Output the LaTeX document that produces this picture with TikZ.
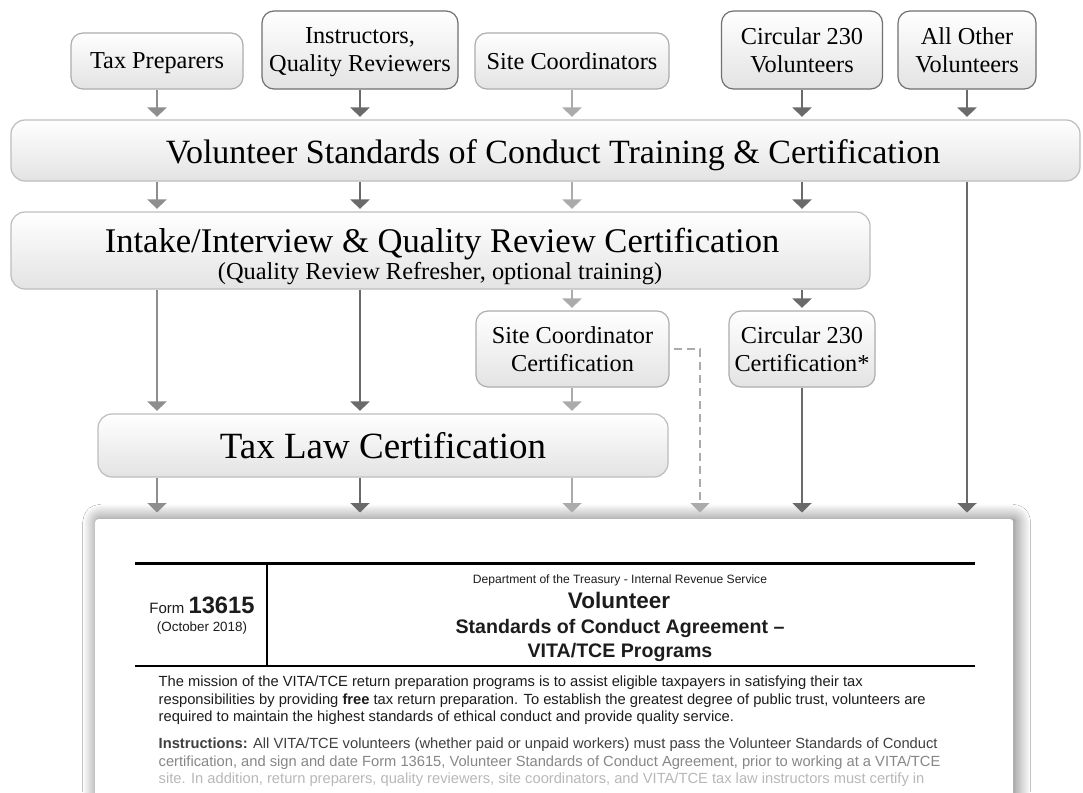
\documentclass[tikz,border=0pt]{standalone}
\usepackage{fontspec}
\setmainfont{Liberation Serif}
\newfontfamily\formfont{Liberation Sans}
\usetikzlibrary{arrows.meta,shadows.blur}

\definecolor{edgelight}{HTML}{ADADAD}
\definecolor{edgedark}{HTML}{707070}
\definecolor{edgebig}{HTML}{BDBDBD}
\definecolor{fillbot}{HTML}{E3E3E3}
\definecolor{armid}{HTML}{8E8E8E}
\definecolor{ardark}{HTML}{6A6A6A}
\definecolor{arlight}{HTML}{ABABAB}
\definecolor{ink}{HTML}{1C1C1C}

\tikzset{
  box/.style={draw=edgelight, line width=1.2pt, rounded corners=12pt,
    top color=white, bottom color=fillbot, inner sep=0pt, align=center,
    text depth=0pt, font=\fontsize{24.3}{28}\selectfont},
  darkbox/.style={box, draw=edgedark},
  bigbox/.style={box, draw=edgebig, rounded corners=14pt},
  boxtitle/.style={inner sep=0pt, anchor=base},
  flow/.style={line width=2.2pt, -{Triangle[width=19pt,length=9.5pt]}, shorten >=2.5pt},
  dashflow/.style={flow, line width=1.6pt, dash pattern=on 8pt off 5pt, arlight},
  formcard/.style={fill=white, rounded corners=3pt, inner sep=0pt,
    blur shadow={shadow xshift=2.5pt, shadow yshift=0pt, shadow blur radius=15pt,
      shadow blur steps=15, shadow opacity=60}},
  ftext/.style={inner sep=0pt, text=ink, font=\formfont},
  bodyline/.style={ftext, anchor=base west, font=\formfont\fontsize{14.7}{17}\selectfont},
}

\begin{document}
\begin{tikzpicture}[x=1pt,y=-1pt]
\useasboundingbox (0,0) rectangle (1083,792);
\fill[white] (0,0) rectangle (1083,792);

% the agreement form page at the foot of the chart
\node[formcard, minimum width=918pt, minimum height=300pt, anchor=north west] (card) at (95,519) {};

% volunteer roles
\node[box, minimum width=172pt, minimum height=56pt] (tp) at (157,61) {Tax Preparers};
\node[darkbox, minimum width=196pt, minimum height=78pt] (iq) at (360,50) {Instructors,\\Quality Reviewers};
\node[box, minimum width=194pt, minimum height=56pt] (sc) at (572,61) {Site Coordinators};
\node[darkbox, minimum width=161pt, minimum height=78pt] (cv) at (802,50) {Circular 230\\Volunteers};
\node[darkbox, minimum width=138pt, minimum height=78pt] (ov) at (967,50) {All Other\\Volunteers};

% certification stages
\node[bigbox, minimum width=1069pt, minimum height=61pt] (vsc) at (545.5,150.5) {};
\node[boxtitle, font=\fontsize{34}{38}\selectfont] (vsctext) at (553,163)
  {Volunteer Standards of Conduct Training \& Certification};
\node[bigbox, minimum width=859pt, minimum height=77pt] (intake) at (440.5,250.5) {};
\node[boxtitle, font=\fontsize{34.6}{38}\selectfont] (intaketext) at (442,252.5)
  {Intake/Interview \& Quality Review Certification};
\node[boxtitle, font=\fontsize{24.4}{27}\selectfont] (intakesub) at (440,279.5)
  {(Quality Review Refresher, optional training)};
\node[box, minimum width=193pt, minimum height=76pt] (scc) at (572.5,349) {Site Coordinator\\Certification};
\node[box, minimum width=146pt, minimum height=76pt] (ccc) at (802,349) {Circular 230\\Certification*};
\node[bigbox, minimum width=570pt, minimum height=63pt] (tax) at (383,445.5) {};
\node[boxtitle, font=\fontsize{37}{40}\selectfont] (taxtext) at (383,458) {Tax Law Certification};

% tax preparers
\draw[flow, armid] (tp.south) -- (tp.south |- vsc.north);
\draw[flow, armid] (vsc.south -| tp.south) -- (intake.north -| tp.south);
\draw[flow, armid] (intake.south -| tp.south) -- (tax.north -| tp.south);
\draw[flow, armid, shorten >=6.5pt] (tax.south -| tp.south) -- (card.north -| tp.south);
% instructors and quality reviewers
\draw[flow, ardark] (iq.south) -- (iq.south |- vsc.north);
\draw[flow, ardark] (vsc.south -| iq.south) -- (intake.north -| iq.south);
\draw[flow, ardark] (intake.south -| iq.south) -- (tax.north -| iq.south);
\draw[flow, ardark, shorten >=6.5pt] (tax.south -| iq.south) -- (card.north -| iq.south);
% site coordinators
\draw[flow, arlight] (sc.south) -- (sc.south |- vsc.north);
\draw[flow, arlight] (vsc.south -| sc.south) -- (intake.north -| sc.south);
\draw[flow, arlight] (intake.south -| sc.south) -- (scc.north -| sc.south);
\draw[flow, arlight] (scc.south -| sc.south) -- (tax.north -| sc.south);
\draw[flow, arlight, shorten >=6.5pt] (tax.south -| sc.south) -- (card.north -| sc.south);
\coordinate (dbend) at (700,349);
\draw[dashflow, shorten >=6.5pt] ([xshift=4pt]scc.east) -- (dbend) -- (dbend |- card.north);
% circular 230 volunteers
\draw[flow, ardark] (cv.south) -- (cv.south |- vsc.north);
\draw[flow, ardark] (vsc.south -| cv.south) -- (intake.north -| cv.south);
\draw[flow, ardark] (intake.south -| cv.south) -- (ccc.north);
\draw[flow, ardark, shorten >=6.5pt] (ccc.south) -- (ccc.south |- card.north);
% all other volunteers
\draw[flow, ardark] (ov.south) -- (ov.south |- vsc.north);
\draw[flow, ardark, shorten >=6.5pt] (vsc.south -| ov.south) -- (card.north -| ov.south);

% form header rules
\draw[line width=3pt] (135,563) -- (975,563);
\draw[line width=1.5pt] (135,666) -- (975,666);
\draw[line width=1.5pt] (267,563) -- (267,666);

% form header text
\node[ftext, anchor=base] (fno) at (202,613)
  {{\fontsize{15}{17}\selectfont Form }{\fontsize{23.7}{26}\selectfont\bfseries 13615}};
\node[ftext, anchor=base, font=\formfont\fontsize{13.4}{15}\selectfont] (fdate) at (202,631) {(October 2018)};
\node[ftext, anchor=base, font=\formfont\fontsize{12.1}{14}\selectfont] (dept) at (620,583)
  {Department of the Treasury - Internal Revenue Service};
\node[ftext, anchor=base, font=\formfont\bfseries\fontsize{22.5}{25}\selectfont] (t1) at (619,608) {Volunteer};
\node[ftext, anchor=base, font=\formfont\bfseries\fontsize{19.6}{22}\selectfont] (t2) at (620,633)
  {Standards of Conduct Agreement –};
\node[ftext, anchor=base, font=\formfont\bfseries\fontsize{19.6}{22}\selectfont] (t3) at (620,657) {VITA/TCE Programs};

% form body, fading out towards the bottom
\node[bodyline] (b1) at (158.5,686.5)
  {The mission of the VITA/TCE return preparation programs is to assist eligible taxpayers in satisfying their tax};
\node[bodyline] (b2) at (158.5,704)
  {responsibilities by providing \textbf{free} tax return preparation. To establish the greatest degree of public trust, volunteers are};
\node[bodyline] (b3) at (158.5,721.5)
  {required to maintain the highest standards of ethical conduct and provide quality service.};
\node[bodyline, text=black!75] (b4) at (158.5,748.5)
  {\textbf{Instructions:} All VITA/TCE volunteers (whether paid or unpaid workers) must pass the Volunteer Standards of Conduct};
\node[bodyline, text=black!47] (b5) at (158.5,766)
  {certification, and sign and date Form 13615, Volunteer Standards of Conduct Agreement, prior to working at a VITA/TCE};
\node[bodyline, text=black!28] (b6) at (158.5,783.5)
  {site. In addition, return preparers, quality reviewers, site coordinators, and VITA/TCE tax law instructors must certify in};
\end{tikzpicture}
\end{document}
